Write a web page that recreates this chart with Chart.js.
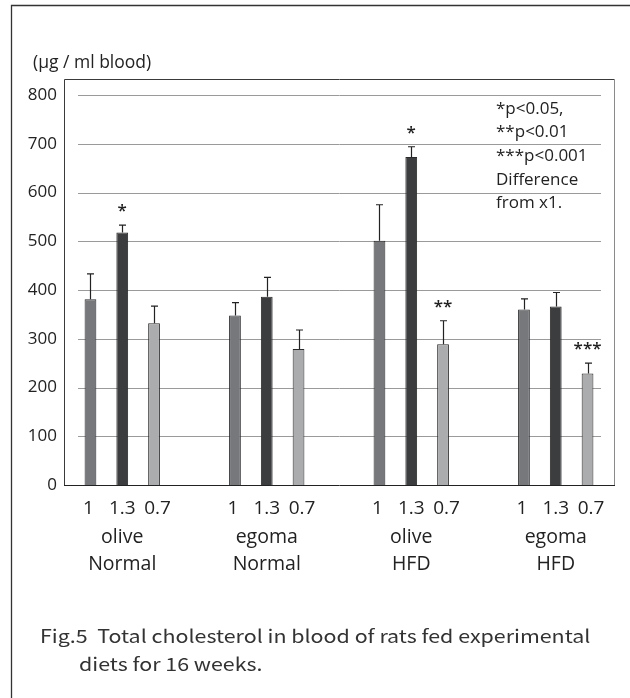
<!DOCTYPE html>
<html lang="en">
<head>
    <meta charset="UTF-8">
    <title>Fig.5 Total cholesterol</title>
    <script src="https://cdn.jsdelivr.net/npm/chart.js"></script>
    <style>
        html, body { margin: 0; padding: 0; background: #fff; }
        #wrap { width: 630px; height: 698px; }
    </style>
</head>
<body>
    <div id="wrap"><canvas id="fig5" width="630" height="698"></canvas></div>

    <script>
        // groups on the x axis (oil / diet) and the ratio under each bar
        const groups = [["olive", "Normal"], ["egoma", "Normal"], ["olive", "HFD"], ["egoma", "HFD"]];
        const ratios = ["1", "1.3", "0.7"];

        // mean total cholesterol (ug / ml blood)
        const meanX1 = [381, 348, 501, 360];
        const meanX13 = [518, 386, 673, 366];
        const meanX07 = [332, 279, 289, 229];

        // upper error bar length
        const errX1 = [52, 26, 74, 22];
        const errX13 = [15, 40, 21, 29];
        const errX07 = [35, 39, 48, 21];

        // significance marks vs x1
        const starsX1 = ["", "", "", ""];
        const starsX13 = ["*", "", "*", ""];
        const starsX07 = ["", "", "**", "***"];

        const yTicks = [0, 100, 200, 300, 400, 500, 600, 700, 800];
        const yTitle = "(\u00b5g / ml blood)";
        const noteLines = ["*p<0.05,", "**p<0.01", "***p<0.001", "Difference", "from x1."];
        const caption = ["Fig.5  Total cholesterol in blood of rats fed experimental", "diets for 16 weeks."];

        const errors = [errX1, errX13, errX07];
        const stars = [starsX1, starsX13, starsX07];

        const FONT = "'Open Sans', Lato, sans-serif";
        const TXT = "#222";

        // grid lines (inset from the plot frame like the original)
        const gridPlugin = {
            id: 'gridLines',
            beforeDatasetsDraw(chart) {
                const ctx = chart.ctx, y = chart.scales.y;
                ctx.save();
                ctx.strokeStyle = "#9a9a9a";
                ctx.lineWidth = 1;
                yTicks.forEach(v => {
                    if (v === 0) return;
                    const py = Math.round(y.getPixelForValue(v)) + 0.5;
                    ctx.beginPath();
                    ctx.moveTo(78, py);
                    ctx.lineTo(601, py);
                    ctx.stroke();
                });
                ctx.restore();
            }
        };

        const decoPlugin = {
            id: 'deco',
            afterDatasetsDraw(chart) {
                const ctx = chart.ctx, y = chart.scales.y;
                const top = y.getPixelForValue(y.max), bottom = y.getPixelForValue(0);
                ctx.save();

                // plot frame
                ctx.lineWidth = 1;
                ctx.strokeStyle = "#3a3a3a";
                ctx.beginPath();
                ctx.moveTo(64.5, bottom + 0.5);
                ctx.lineTo(64.5, top + 0.5);
                ctx.lineTo(614.5, top + 0.5);
                ctx.stroke();
                ctx.strokeStyle = "#8a8a8a";
                ctx.beginPath();
                ctx.moveTo(614.5, top + 0.5);
                ctx.lineTo(614.5, bottom + 0.5);
                ctx.stroke();
                ctx.strokeStyle = "#222";
                ctx.beginPath();
                ctx.moveTo(64, bottom + 0.5);
                ctx.lineTo(615, bottom + 0.5);
                ctx.stroke();

                // error bars + stars + ratio labels
                chart.data.datasets.forEach((ds, di) => {
                    const meta = chart.getDatasetMeta(di);
                    meta.data.forEach((bar, i) => {
                        const x = Math.round(bar.x) + 0.5;
                        const yTop = y.getPixelForValue(ds.data[i]);
                        const yErr = y.getPixelForValue(ds.data[i] + errors[di][i]);
                        ctx.strokeStyle = "#222";
                        ctx.lineWidth = 1.2;
                        ctx.beginPath();
                        ctx.moveTo(x, yTop);
                        ctx.lineTo(x, yErr);
                        ctx.moveTo(x - 3.5, yErr);
                        ctx.lineTo(x + 3.5, yErr);
                        ctx.stroke();

                        ctx.fillStyle = TXT;
                        ctx.textAlign = "center";
                        if (stars[di][i]) {
                            ctx.font = "600 17px " + FONT;
                            ctx.textBaseline = "alphabetic";
                            ctx.fillText(stars[di][i], bar.x, yErr - 9);
                        }
                        ctx.font = "19px " + FONT;
                        ctx.textBaseline = "middle";
                        ctx.fillText(ratios[di], bar.x + (di === 2 ? 3.5 : di === 0 ? -2 : 0), bottom + 24);
                    });
                });

                // y tick labels
                ctx.font = "17px " + FONT;
                ctx.fillStyle = TXT;
                ctx.textAlign = "right";
                ctx.textBaseline = "middle";
                yTicks.forEach(v => ctx.fillText(String(v), 57, y.getPixelForValue(v)));

                // y title
                ctx.textAlign = "left";
                ctx.font = "17.5px " + FONT;
                ctx.fillText(yTitle, 33, 63);

                // note in the upper right
                ctx.font = "17px " + FONT;
                noteLines.forEach((t, k) => ctx.fillText(t, 496, 109 + k * 23.6));

                // caption (the original is a wide gothic face)
                ctx.font = "18px 'Noto Sans CJK JP', sans-serif";
                ctx.fillStyle = "#333";
                ctx.save();
                ctx.translate(40, 0);
                ctx.scale(1.19, 1);
                ctx.fillText(caption[0], 0, 636);
                ctx.fillText(caption[1], (79 - 40) / 1.19, 664);
                ctx.restore();

                // outer frame
                ctx.strokeStyle = "#333";
                ctx.lineWidth = 1.3;
                ctx.beginPath();
                ctx.moveTo(11.5, 698);
                ctx.lineTo(11.5, 5.5);
                ctx.lineTo(630, 5.5);
                ctx.stroke();

                ctx.restore();
            }
        };

        new Chart(document.getElementById('fig5'), {
            type: 'bar',
            data: {
                labels: groups,
                datasets: [
                    { label: 'x1', data: meanX1, backgroundColor: '#77787b' },
                    { label: 'x1.3', data: meanX13, backgroundColor: '#3c3d3f' },
                    { label: 'x0.7', data: meanX07, backgroundColor: '#abacae' }
                ].map(d => Object.assign(d, {
                    borderColor: '#2a2a2a',
                    borderWidth: 1,
                    categoryPercentage: 0.66,
                    barPercentage: 0.37
                }))
            },
            options: {
                responsive: false,
                animation: false,
                layout: { padding: { left: 50, right: 2, top: 79, bottom: 0 } },
                plugins: { legend: { display: false }, tooltip: { enabled: false } },
                scales: {
                    x: {
                        grid: { display: false, drawTicks: false },
                        border: { display: false },
                        ticks: {
                            color: TXT,
                            padding: 39,
                            maxRotation: 0,
                            autoSkip: false,
                            font: { family: FONT, size: 19.5, lineHeight: 1.38 }
                        },
                        afterFit(scale) { scale.height = 213; }
                    },
                    y: {
                        display: false,
                        min: 0,
                        max: 833
                    }
                }
            },
            plugins: [gridPlugin, decoPlugin]
        });
    </script>
</body>
</html>
